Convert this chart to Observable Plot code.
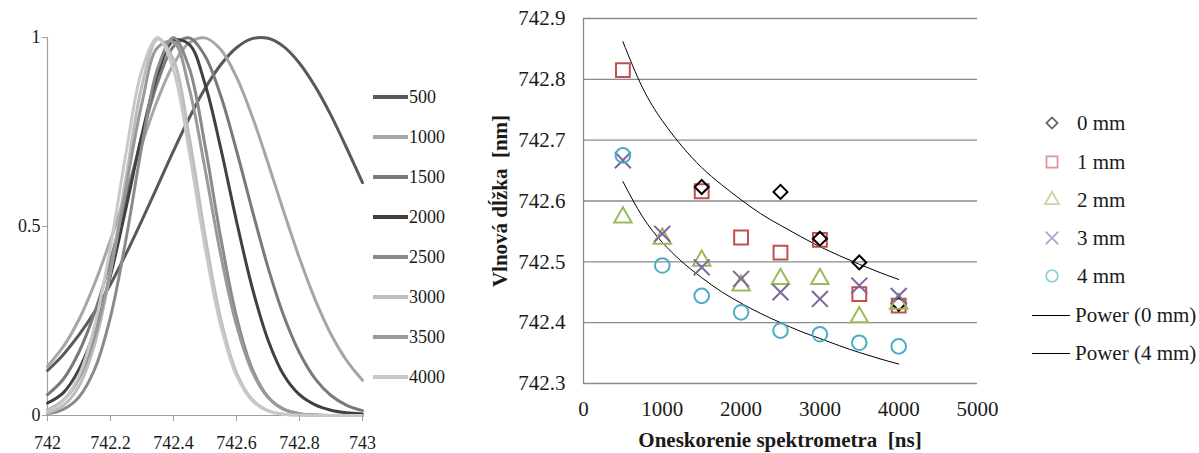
<!DOCTYPE html>
<html><head><meta charset="utf-8">
<script src="https://cdn.jsdelivr.net/npm/d3@7"></script>
<script src="https://cdn.jsdelivr.net/npm/@observablehq/plot@0.6"></script>
<style>
html,body{margin:0;padding:0;background:#fff;}
body{width:1199px;height:453px;position:relative;overflow:hidden;font-family:"Liberation Serif","DejaVu Serif",serif;color:#1a1a1a;}
svg text{font-family:"Liberation Serif","DejaVu Serif",serif !important;fill:#1a1a1a;}
.abs{position:absolute;}
.lrow{position:absolute;display:flex;align-items:center;height:24px;font-size:18px;white-space:pre;}
.lrow .sw{width:35px;height:4px;margin-right:1px;}
.rrow{position:absolute;display:flex;align-items:center;height:28px;font-size:21px;white-space:pre;}
.title{position:absolute;font-weight:bold;font-size:21px;white-space:pre;}
</style></head><body>
<div id="left" class="abs" style="left:0;top:0"></div>
<div id="right" class="abs" style="left:470px;top:0"></div>
<div id="leftLegend"></div>
<div id="rightLegend"></div>
<div class="title" style="left:583px;width:394px;top:428px;text-align:center;">Oneskorenie spektrometra  [ns]</div>
<div class="title" style="left:500px;top:201px;transform:translate(-50%,-50%) rotate(-90deg);">Vlnová dĺžka  [nm]</div>
<script>
// ---------- Left panel: normalized spectra ----------
const wavelengths = [742.00,742.05,742.10,742.15,742.20,742.25,742.30,742.35,742.40,742.45,742.50,742.55,742.60,742.65,742.70,742.75,742.80,742.85,742.90,742.95,743.00];
const spectrumDelays = [500,1000,1500,2000,2500,3000,3500,4000];
const spectrumColors = ["#595959","#a6a6a6","#7a7a7a","#404040","#8a8a8a","#bdbdbd","#999999","#c8c8c8"];
const int500  = [0.119,0.161,0.213,0.275,0.347,0.429,0.517,0.608,0.700,0.787,0.865,0.928,0.973,0.997,0.998,0.976,0.932,0.870,0.794,0.707,0.616];
const int1000 = [0.130,0.182,0.254,0.350,0.464,0.591,0.719,0.836,0.929,0.986,0.999,0.968,0.895,0.791,0.668,0.539,0.416,0.306,0.215,0.145,0.093];
const int1500 = [0.055,0.096,0.168,0.273,0.411,0.573,0.739,0.882,0.976,0.999,0.951,0.846,0.701,0.543,0.392,0.264,0.166,0.097,0.053,0.027,0.013];
const int2000 = [0.033,0.060,0.122,0.224,0.370,0.552,0.744,0.904,0.992,0.982,0.877,0.707,0.514,0.338,0.200,0.107,0.055,0.028,0.014,0.007,0.004];
const int2500 = [0.005,0.016,0.049,0.123,0.261,0.470,0.715,0.919,1.000,0.919,0.715,0.470,0.261,0.123,0.049,0.016,0.005,0.001,0,0,0];
const int3000 = [0.007,0.026,0.078,0.189,0.380,0.633,0.873,0.996,0.941,0.736,0.477,0.255,0.113,0.042,0.013,0.003,0.001,0,0,0,0];
const int3500 = [0.014,0.040,0.098,0.209,0.383,0.607,0.827,0.974,0.988,0.865,0.653,0.425,0.239,0.116,0.048,0.017,0.005,0.001,0,0,0];
const int4000 = [0.012,0.039,0.106,0.238,0.446,0.698,0.914,1.000,0.914,0.698,0.446,0.238,0.106,0.039,0.012,0.003,0.001,0,0,0,0];
const leftXTicks = [742,742.2,742.4,742.6,742.8,743];
const leftYTicks = [0,0.5,1];

// ---------- Right panel: peak wavelength vs delay ----------
const delays = [500,1000,1500,2000,2500,3000,3500,4000];
const nm0 = [null,null,742.623,null,742.615,742.538,742.499,742.431];
const nm1 = [742.815,null,742.616,742.540,742.515,742.536,742.447,742.428];
const nm2 = [742.573,742.538,742.502,742.461,742.472,742.472,742.409,742.431];
const nm3 = [742.667,742.546,742.491,742.472,742.450,742.439,742.461,742.444];
const nm4 = [742.675,742.494,742.444,742.417,742.387,742.381,742.367,742.361];
const fitDelays = [500,750,1000,1250,1500,1750,2000,2250,2500,2750,3000,3250,3500,3750,4000];
const power0 = [742.862,742.786,742.732,742.690,742.655,742.627,742.602,742.579,742.560,742.542,742.525,742.510,742.496,742.483,742.471];
const power4 = [742.632,742.574,742.532,742.500,742.474,742.451,742.432,742.415,742.400,742.386,742.374,742.362,742.351,742.341,742.332];
const rightXTicks = [0,1000,2000,3000,4000,5000];
const rightYTicks = [742.3,742.4,742.5,742.6,742.7,742.8,742.9];
const seriesNames = ["0 mm","1 mm","2 mm","3 mm","4 mm"];
const fitNames = ["Power (0 mm)","Power (4 mm)"];

const FONT = "'Liberation Serif','DejaVu Serif',serif";

// ----- build left -----
const spectra = [int500,int1000,int1500,int2000,int2500,int3000,int3500,int4000];
const leftRows = [];
spectrumDelays.forEach((d,k)=>wavelengths.forEach((w,i)=>leftRows.push({w, v: spectra[k][i], delay: d})));

const leftPlot = Plot.plot({
  width: 365, height: 453,
  marginLeft: 47, marginRight: 3, marginTop: 37, marginBottom: 38,
  x: {domain: [742,743]},
  y: {domain: [0,1]},
  color: {type: "ordinal", domain: spectrumDelays, range: spectrumColors},
  style: {fontFamily: FONT, fontSize: "18px", color: "#1a1a1a", background: "transparent", overflow: "visible"},
  marks: [
    Plot.ruleX([742], {stroke: "#a0a0a0", strokeWidth: 1.2}),
    Plot.ruleY([0], {stroke: "#a0a0a0", strokeWidth: 1.2}),
    Plot.line(leftRows, {x: "w", y: "v", z: "delay", stroke: "delay", strokeWidth: 3, curve: "catmull-rom"}),
    Plot.axisY({ticks: leftYTicks, tickFormat: d => String(d), tickSize: 5, tickPadding: 2, stroke: "#a0a0a0", label: null}),
    Plot.axisX({ticks: leftXTicks, tickFormat: d => String(+d.toFixed(1)), tickSize: 6, tickPadding: 15, stroke: "#a0a0a0", label: null})
  ]
});
document.getElementById("left").appendChild(leftPlot);

// left legend
const ll = document.getElementById("leftLegend");
spectrumDelays.forEach((d,i)=>{
  const row = document.createElement("div");
  row.className = "lrow";
  row.style.left = "373px";
  row.style.top = (97 + 40*i - 12) + "px";
  row.innerHTML = `<span class="sw" style="background:${spectrumColors[i]}"></span><span>${d}</span>`;
  ll.appendChild(row);
});

// ----- build right -----
const seriesValues = [nm0,nm1,nm2,nm3,nm4];
const seriesStyle = [
  {symbol: "diamond2", color: "#000000", r: 6.3},
  {symbol: "square",   color: "#c0504d", r: 7.8},
  {symbol: "triangle", color: "#9bbb59", r: 6.5},
  {symbol: "times",    color: "#8064a2", r: 7.3},
  {symbol: "circle",   color: "#4bacc6", r: 7.3}
];
const pts = [];
seriesValues.forEach((vals,k)=>delays.forEach((d,i)=>{ if (vals[i] != null) pts.push({delay: d, nm: vals[i], s: k}); }));
const fitRows = [];
[power0, power4].forEach((vals,k)=>fitDelays.forEach((d,i)=>fitRows.push({delay: d, nm: vals[i], fit: fitNames[k]})));

const drawOrder = [1,0,2,3,4];
const rightPlot = Plot.plot({
  width: 510, height: 453,
  marginLeft: 113, marginRight: 3, marginTop: 18, marginBottom: 70,
  x: {domain: [0,5000]},
  y: {domain: [742.3,742.9]},
  style: {fontFamily: FONT, fontSize: "21px", color: "#1a1a1a", background: "transparent", overflow: "visible"},
  marks: [
    Plot.gridY(rightYTicks, {stroke: "#8a8a8a", strokeOpacity: 1, strokeWidth: 1.3}),
    Plot.ruleX([0], {stroke: "#8a8a8a", strokeWidth: 1.3}),
    Plot.line(fitRows, {x: "delay", y: "nm", z: "fit", stroke: "#000", strokeWidth: 1, curve: "natural"}),
    ...drawOrder.map(k => Plot.dot(pts.filter(p => p.s === k), {
      x: "delay", y: "nm", symbol: seriesStyle[k].symbol, r: seriesStyle[k].r,
      stroke: seriesStyle[k].color, fill: "none", strokeWidth: 2
    })),
    Plot.axisY({ticks: rightYTicks, tickFormat: d => d.toFixed(1), tickSize: 0, tickPadding: 18, label: null}),
    Plot.axisX({ticks: rightXTicks, tickFormat: d => String(d), tickSize: 0, tickPadding: 18, label: null})
  ]
});
document.getElementById("right").appendChild(rightPlot);

// right legend
const rl = document.getElementById("rightLegend");
const legendY = [123,162,200,238,276];
seriesNames.forEach((name,k)=>{
  const st = seriesStyle[k];
  const sym = {diamond2: d3.symbolDiamond2, square: d3.symbolSquare, triangle: d3.symbolTriangle, times: d3.symbolTimes, circle: d3.symbolCircle}[st.symbol];
  const rr = st.r * 0.8;
  const path = d3.symbol(sym, Math.PI*rr*rr)();
  const row = document.createElement("div");
  row.className = "rrow";
  row.style.left = "1040px";
  row.style.top = (legendY[k] - 14) + "px";
  row.innerHTML = `<svg width="24" height="24" style="margin-right:13px;overflow:visible"><path d="${path}" transform="translate(12,12)" fill="none" stroke="${st.color}" stroke-opacity="0.6" stroke-width="1.8"/></svg><span>${name}</span>`;
  rl.appendChild(row);
});
const fitY = [315,353];
fitNames.forEach((name,k)=>{
  const row = document.createElement("div");
  row.className = "rrow";
  row.style.left = "1032px";
  row.style.top = (fitY[k] - 14) + "px";
  row.innerHTML = `<span style="display:inline-block;width:38px;height:0;border-top:1px solid #000;margin-right:5px"></span><span>${name}</span>`;
  rl.appendChild(row);
});
</script>
</body></html>
